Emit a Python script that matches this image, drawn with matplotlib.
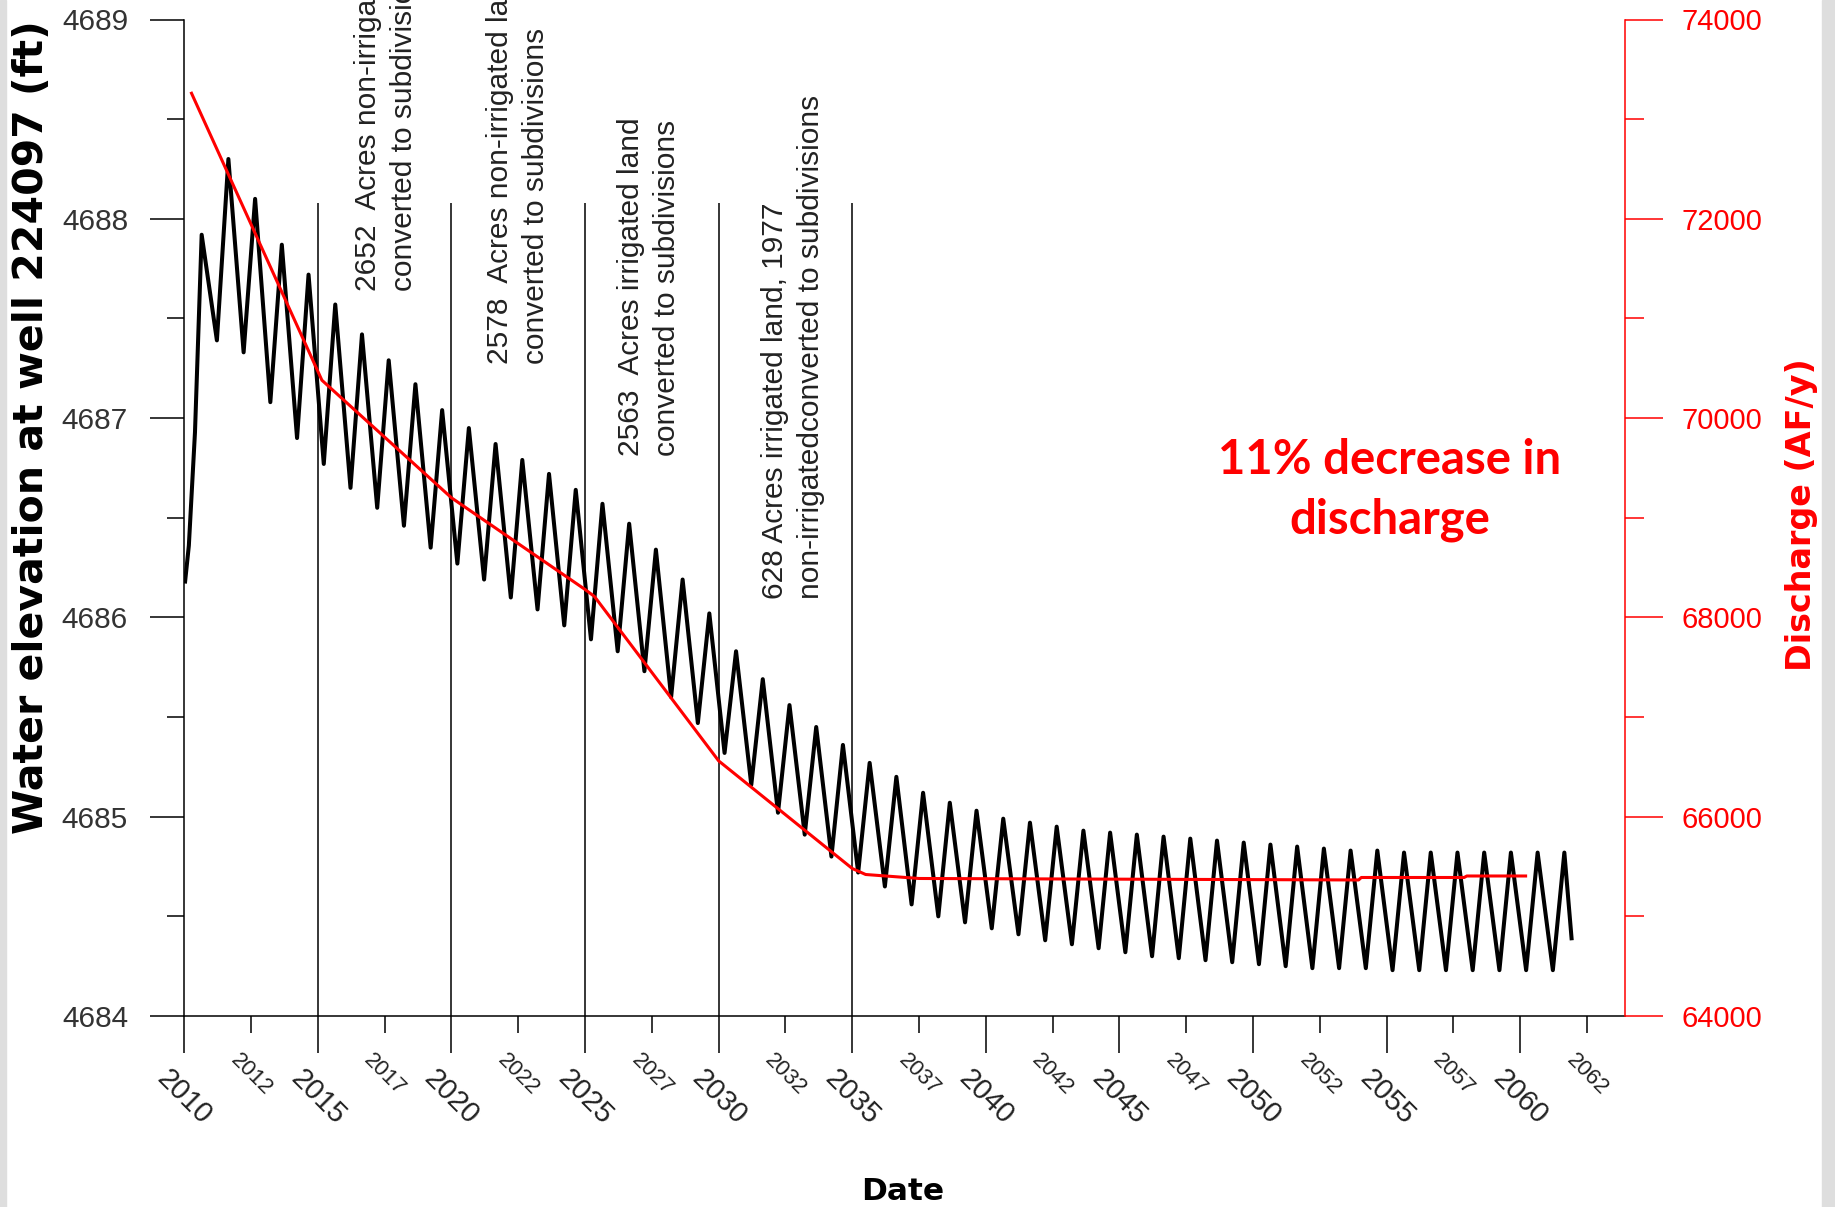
import matplotlib
matplotlib.use('Agg')
import matplotlib.pyplot as plt
from matplotlib.patches import Rectangle
import numpy as np

plt.rcParams['font.family'] = ['Liberation Sans', 'DejaVu Sans']

# water elevation at well 224097 (ft): seasonal highs and lows
peak_years = np.arange(2010, 2062)
peak_elev = [4687.92, 4688.30, 4688.10, 4687.87, 4687.72, 4687.57, 4687.42, 4687.29,
             4687.17, 4687.04, 4686.95, 4686.87, 4686.79, 4686.72, 4686.64, 4686.57,
             4686.47, 4686.34, 4686.19, 4686.02, 4685.83, 4685.69, 4685.56, 4685.45,
             4685.36, 4685.27, 4685.20, 4685.12, 4685.07, 4685.03, 4684.99, 4684.97,
             4684.95, 4684.93, 4684.92, 4684.91, 4684.90, 4684.89, 4684.88, 4684.87,
             4684.86, 4684.85, 4684.84, 4684.83, 4684.83, 4684.82, 4684.82, 4684.82,
             4684.82, 4684.82, 4684.82, 4684.82]
trough_years = np.arange(2011, 2062)
trough_elev = [4687.39, 4687.33, 4687.08, 4686.90, 4686.77, 4686.65, 4686.55, 4686.46,
               4686.35, 4686.27, 4686.19, 4686.10, 4686.04, 4685.96, 4685.89, 4685.83,
               4685.73, 4685.60, 4685.47, 4685.32, 4685.16, 4685.02, 4684.91, 4684.80,
               4684.72, 4684.65, 4684.56, 4684.50, 4684.47, 4684.44, 4684.41, 4684.38,
               4684.36, 4684.34, 4684.32, 4684.30, 4684.29, 4684.28, 4684.27, 4684.26,
               4684.25, 4684.24, 4684.24, 4684.24, 4684.23, 4684.23, 4684.23, 4684.23,
               4684.23, 4684.23, 4684.23]
start_t = [2010.03, 2010.17, 2010.40]
start_elev = [4686.18, 4686.36, 4686.93]
end_t = [2061.92]
end_elev = [4684.39]

# discharge (AF/y)
q_years = [2010.27, 2015.15, 2020.0, 2025.0, 2025.35, 2030.0, 2035.0, 2035.5,
           2037.5, 2053.95, 2054.05, 2057.9, 2058.0, 2060.2]
q_vals = [73260, 70380, 69200, 68280, 68210, 66560, 65480, 65420,
          65380, 65365, 65390, 65390, 65405, 65405]

# land conversion events
event_years = [2015, 2020, 2025, 2030, 2035]
event_text = ['2652  Acres non-irrigated land\nconverted to subdivisions',
              '2578  Acres non-irrigated land\nconverted to subdivisions',
              '2563  Acres irrigated land\nconverted to subdivisions',
              '628 Acres irrigated land, 1977\nnon-irrigatedconverted to subdivisions']
text_x = [2016.35, 2021.3, 2026.2, 2031.6]
text_y = [4687.64, 4687.27, 4686.81, 4686.09]

major_ticks = [2010, 2015, 2020, 2025, 2030, 2035, 2040, 2045, 2050, 2055, 2060]
minor_ticks = [2012.5, 2017.5, 2022.5, 2027.5, 2032.5, 2037.5, 2042.5, 2047.5,
               2052.5, 2057.5, 2062.5]
minor_labels = ['2012', '2017', '2022', '2027', '2032', '2037', '2042', '2047',
                '2052', '2057', '2062']

# build the elevation line: start, then peak / trough alternating
t = list(start_t)
h = list(start_elev)
for i, yr in enumerate(peak_years):
    t.append(yr + 0.65)
    h.append(peak_elev[i])
    if i < len(trough_years):
        t.append(trough_years[i] + 0.22)
        h.append(trough_elev[i])
t += end_t
h += end_elev

W, H = 1835, 1207
fig = plt.figure(figsize=(W / 100, H / 100), dpi=100)
x0, x1, y0, y1 = 184.3, 1625, 19.5, 1016
ax = fig.add_axes([x0 / W, 1 - y1 / H, (x1 - x0) / W, (y1 - y0) / H])

# gray strips at the image edges
fig.patches.append(Rectangle((0, 0), 6 / W, 1, transform=fig.transFigure,
                             color='#dedede', zorder=0))
fig.patches.append(Rectangle((1822 / W, 0), 13 / W, 1, transform=fig.transFigure,
                             color='#dedede', zorder=0))

ax.plot(t, h, color='black', lw=2.9, solid_joinstyle='round')
ax.vlines(event_years, 4684, 4688.08, color='black', lw=1.1)
for xs, ys, txt in zip(text_x, text_y, event_text):
    ax.text(xs, ys, txt, rotation=90, ha='left', va='bottom', multialignment='left',
            fontsize=21.5, linespacing=1.35, clip_on=False, color='#222222')

ax.set_xlim(2010, 2063.92)
ax.set_ylim(4684, 4689)
ax.set_yticks([4684, 4685, 4686, 4687, 4688, 4689])
ax.set_yticks(np.arange(4684.5, 4689, 1.0), minor=True)
ax.set_xticks(major_ticks)
ax.set_xticklabels([str(v) for v in major_ticks], rotation=-45, ha='center', fontsize=21)
ax.set_xticks(minor_ticks, minor=True)
ax.set_xticklabels(minor_labels, minor=True, rotation=-45, ha='center', fontsize=16)

ax.tick_params(axis='y', which='major', length=24.5, width=1.1, pad=16, labelsize=21.5,
               labelcolor='#333333')
ax.tick_params(axis='y', which='minor', length=12, width=1.1)
ax.tick_params(axis='x', which='major', length=26.6, width=1.1, pad=8, labelcolor='#222222')
ax.tick_params(axis='x', which='minor', length=12, width=1.1, pad=12, labelcolor='#222222')
for s in ['top', 'right']:
    ax.spines[s].set_visible(False)
for s in ['left', 'bottom']:
    ax.spines[s].set_linewidth(1.1)

ax2 = ax.twinx()
ax2.plot(q_years, q_vals, color='red', lw=2.2)
ax2.set_ylim(64000, 74000)
ax2.set_yticks([64000, 66000, 68000, 70000, 72000, 74000])
ax2.set_yticks([65000, 67000, 69000, 71000, 73000], minor=True)
ax2.tick_params(axis='y', which='major', length=27, width=1.1, pad=13.5, labelsize=21,
                colors='red')
ax2.tick_params(axis='y', which='minor', length=14, width=1.1, colors='red')
for s in ['top', 'left', 'bottom']:
    ax2.spines[s].set_visible(False)
ax2.spines['right'].set_color('red')
ax2.spines['right'].set_linewidth(1.1)

fig.text(0.0175, 0.6462, 'Water elevation at well 224097 (ft)', rotation=90,
         ha='center', va='center', fontsize=29.5, fontweight='bold', family='DejaVu Sans')
fig.text(0.982, 0.5733, 'Discharge (AF/y)', rotation=90, ha='center', va='center',
         fontsize=24, fontweight='bold', family='DejaVu Sans', color='red')
fig.text(0.492, 0.0055, 'Date', ha='center', va='baseline', fontsize=22.5,
         fontweight='bold', family='DejaVu Sans')
fig.text(0.7575, 0.594, '11% decrease in\ndischarge', ha='center', va='center',
         multialignment='center', fontsize=34, fontweight='bold', family='Lato',
         color='#ff0000', linespacing=1.45)

fig.savefig('out.png', dpi=100)
